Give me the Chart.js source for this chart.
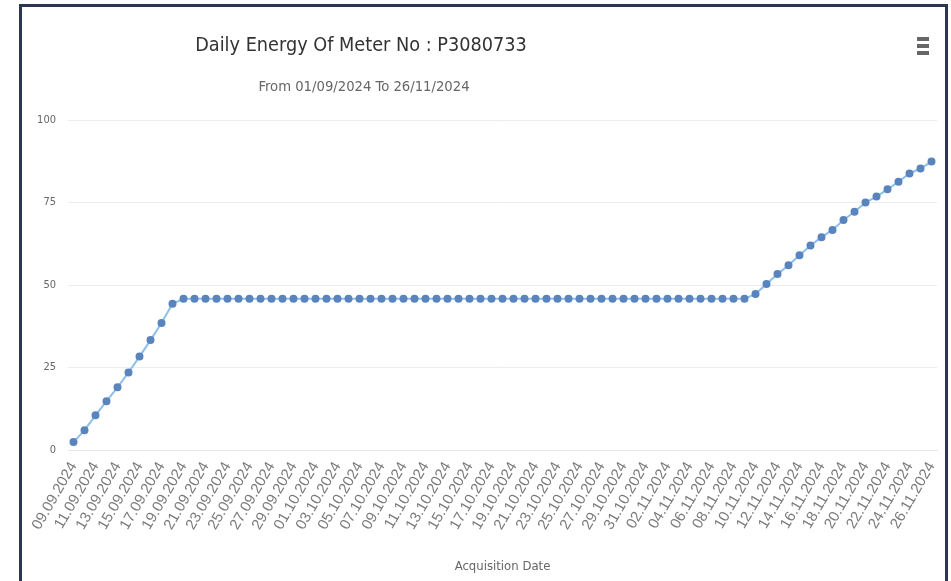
<!DOCTYPE html>
<html>
<head>
<meta charset="utf-8">
<script src="https://cdn.jsdelivr.net/npm/chart.js@4.4.1/dist/chart.umd.min.js"></script>
<style>
	html, body { margin: 0; padding: 0; background: #fff; }
	#wrap { position: relative; width: 951px; height: 581px; overflow: hidden; }
	#grafico { position: absolute; left: 0; top: 0; }
	#moldura {
		position: absolute; left: 19px; top: 4px; width: 923px; height: 574px;
		border-left: 3px solid #2b3650; border-top: 3px solid #2b3650;
		border-right: 3px solid #2b3650; border-bottom: 1px solid #d8dce2;
		pointer-events: none;
	}
	.titulo {
		position: absolute; white-space: nowrap; transform: translateX(-50%);
		font-family: "Liberation Sans Narrow", "DejaVu Sans Condensed", sans-serif;
	}
	#titulo { left: 361px; top: 33px; font-size: 19.7px; color: #333; }
	#subtitulo { left: 364px; top: 77px; font-size: 14.7px; color: #666; }
	#menu { position: absolute; left: 917px; top: 37px; width: 12px; }
	#menu div { height: 4px; background: #666; margin-bottom: 3px; }
</style>
</head>
<body>
<div id="wrap">
	<canvas id="grafico" width="951" height="581"></canvas>
	<div id="titulo" class="titulo">Daily Energy Of Meter No : P3080733</div>
	<div id="subtitulo" class="titulo">From 01/09/2024 To 26/11/2024</div>
	<div id="menu"><div></div><div></div><div></div></div>
	<div id="moldura"></div>
</div>
<script>
	var datasLeitura = [
		'09.09.2024', '10.09.2024', '11.09.2024', '12.09.2024', '13.09.2024', '14.09.2024', '15.09.2024', '16.09.2024',
		'17.09.2024', '18.09.2024', '19.09.2024', '20.09.2024', '21.09.2024', '22.09.2024', '23.09.2024', '24.09.2024',
		'25.09.2024', '26.09.2024', '27.09.2024', '28.09.2024', '29.09.2024', '30.09.2024', '01.10.2024', '02.10.2024',
		'03.10.2024', '04.10.2024', '05.10.2024', '06.10.2024', '07.10.2024', '08.10.2024', '09.10.2024', '10.10.2024',
		'11.10.2024', '12.10.2024', '13.10.2024', '14.10.2024', '15.10.2024', '16.10.2024', '17.10.2024', '18.10.2024',
		'19.10.2024', '20.10.2024', '21.10.2024', '22.10.2024', '23.10.2024', '24.10.2024', '25.10.2024', '26.10.2024',
		'27.10.2024', '28.10.2024', '29.10.2024', '30.10.2024', '31.10.2024', '01.11.2024', '02.11.2024', '03.11.2024',
		'04.11.2024', '05.11.2024', '06.11.2024', '07.11.2024', '08.11.2024', '09.11.2024', '10.11.2024', '11.11.2024',
		'12.11.2024', '13.11.2024', '14.11.2024', '15.11.2024', '16.11.2024', '17.11.2024', '18.11.2024', '19.11.2024',
		'20.11.2024', '21.11.2024', '22.11.2024', '23.11.2024', '24.11.2024', '25.11.2024', '26.11.2024'];

	var energiaDiaria = [
		2.4, 6.0, 10.5, 14.8, 19.0, 23.5, 28.3, 33.3, 38.5, 44.3,
		45.8, 45.8, 45.8, 45.8, 45.8, 45.8, 45.8, 45.8, 45.8, 45.8,
		45.8, 45.8, 45.8, 45.8, 45.8, 45.8, 45.8, 45.8, 45.8, 45.8,
		45.8, 45.8, 45.8, 45.8, 45.8, 45.8, 45.8, 45.8, 45.8, 45.8,
		45.8, 45.8, 45.8, 45.8, 45.8, 45.8, 45.8, 45.8, 45.8, 45.8,
		45.8, 45.8, 45.8, 45.8, 45.8, 45.8, 45.8, 45.8, 45.8, 45.8,
		45.8, 45.8, 47.3, 50.3, 53.3, 56.0, 59.0, 62.0, 64.5, 66.7,
		69.7, 72.2, 75.0, 76.8, 79.0, 81.3, 83.8, 85.3, 87.4];

	var ticksEixoY = [0, 25, 50, 75, 100];

	var _familiaNarrow = "'Liberation Sans Narrow', 'DejaVu Sans Condensed', sans-serif";

	var _graficoEnergia = new Chart(document.getElementById('grafico').getContext('2d'), {
		type: 'line',
		data: {
			labels: datasLeitura,
			datasets: [{
				label: 'Energy',
				data: energiaDiaria,
				borderColor: '#8cc0ec',
				borderWidth: 2,
				backgroundColor: '#5a84bd',
				pointBackgroundColor: '#5a84bd',
				pointBorderColor: '#5a84bd',
				pointRadius: 3,
				tension: 0
			}]
		},
		options: {
			responsive: false,
			animation: false,
			layout: { padding: { top: 120, right: 14, bottom: 4, left: 0 } },
			plugins: {
				legend: { display: false },
				tooltip: { enabled: false }
			},
			scales: {
				x: {
					offset: true,
					grid: { display: false },
					border: { color: '#e6e6e6' },
					afterFit: function(scale) { scale.height = 127; },
					ticks: {
						autoSkip: false,
						minRotation: 60,
						maxRotation: 60,
						color: '#7a7a7a',
						font: { family: "'Liberation Sans', Arial, sans-serif", size: 15 },
						padding: 1,
						callback: function(valor, indice) {
							return (indice % 2 == 0) ? datasLeitura[indice] : '';
						}
					},
					title: {
						display: true,
						text: 'Acquisition Date',
						color: '#666',
						font: { family: _familiaNarrow, size: 13 },
						padding: { top: 0, bottom: 3 }
					}
				},
				y: {
					min: ticksEixoY[0],
					max: ticksEixoY[ticksEixoY.length - 1],
					afterFit: function(scale) { scale.width = 68; },
					afterBuildTicks: function(scale) {
						scale.ticks = ticksEixoY.map(function(v) { return { value: v }; });
					},
					grid: { color: '#ececec', drawTicks: false },
					border: { display: false },
					ticks: { color: '#666', font: { family: _familiaNarrow, size: 11 }, padding: 12 }
				}
			}
		}
	});
</script>
</body>
</html>
